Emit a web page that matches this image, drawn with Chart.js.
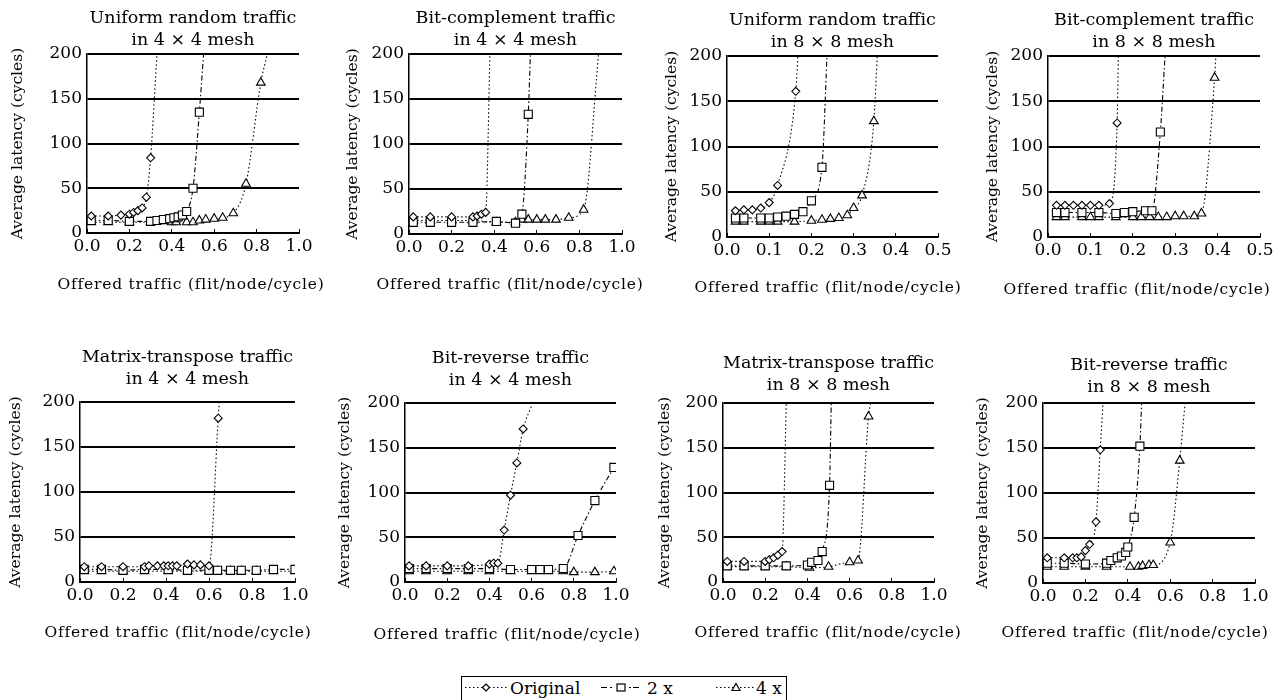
<!DOCTYPE html>
<html>
<head>
<meta charset="utf-8">
<script src="https://cdn.jsdelivr.net/npm/chart.js@4.4.1/dist/chart.umd.min.js"></script>
<style>
  body { margin:0; width:1284px; height:700px; background:#fff; overflow:hidden; position:relative; font-family:'DejaVu Serif', serif; }
  .legend { position:absolute; left:461px; top:676px; width:326px; height:32px; border:1.5px solid #000; box-sizing:border-box; }
  .legend span { position:absolute; top:-0.5px; font-size:17px; line-height:22px; color:#000; white-space:nowrap; }
</style>
</head>
<body>
<div class="legend">
  <svg width="326" height="28" style="position:absolute;left:0;top:0">
    <g stroke="#000" stroke-width="1.2" fill="#fff">
      <line x1="3" y1="10.5" x2="45" y2="10.5" stroke-dasharray="1.5 2.5"/>
      <path d="M24 7 L27.5 10.5 L24 14 L20.5 10.5 Z"/>
      <path d="M139 10.5 H145 M148 10.5 H150 M167 10.5 H169 M171 10.5 H177" fill="none"/>
      <rect x="155" y="7" width="8" height="7"/>
      <line x1="254" y1="10.5" x2="293" y2="10.5" stroke-dasharray="1.5 2.5"/>
      <path d="M274 6.5 L278 13.5 L270 13.5 Z"/>
    </g>
  </svg>
  <span style="left:48px">Original</span>
  <span style="left:185px">2 x</span>
  <span style="left:294px">4 x</span>
</div>
<script>
// tick labels
const yTicks = [0, 50, 100, 150, 200];
const xTicksFull = [0, 0.2, 0.4, 0.6, 0.8, 1.0];
const xTicksHalf = [0, 0.1, 0.2, 0.3, 0.4, 0.5];
const seriesNames = ["Original", "2 x", "4 x"];

// Uniform random, 4x4
const ur4Orig = [[0.02,19],[0.1,19],[0.16,20],[0.2,21],[0.22,23],[0.24,25],[0.26,28],[0.28,40],[0.3,84],[0.33,200]];
const ur4Two = [[0.02,14],[0.1,14],[0.2,13],[0.3,13],[0.33,14],[0.36,15],[0.39,16],[0.41,17],[0.43,18],[0.45,20],[0.47,24],[0.5,50],[0.53,135],[0.55,200]];
const ur4Four = [[0.02,12],[0.1,12],[0.2,12],[0.3,12],[0.4,12],[0.42,12],[0.47,12],[0.5,12],[0.53,14],[0.56,15],[0.6,16],[0.64,17],[0.69,22],[0.75,55],[0.82,168],[0.85,200]];

// Bit-complement, 4x4
const bc4Orig = [[0.02,19],[0.1,19],[0.2,19],[0.3,19],[0.32,20],[0.34,22],[0.36,24],[0.38,200]];
const bc4Two = [[0.02,13],[0.1,13],[0.2,13],[0.3,13],[0.41,14],[0.5,12],[0.53,22],[0.56,133],[0.57,200]];
const bc4Four = [[0.02,15],[0.1,15],[0.2,15],[0.3,15],[0.41,13],[0.5,13],[0.53,16],[0.56,16],[0.6,16],[0.64,16],[0.69,16],[0.75,18],[0.82,27],[0.89,200]];

// Uniform random, 8x8
const ur8Orig = [[0.02,29],[0.04,30],[0.06,30],[0.08,32],[0.1,38],[0.12,57],[0.163,161],[0.168,200]];
const ur8Two = [[0.02,21],[0.04,21],[0.08,21],[0.1,21],[0.12,22],[0.14,23],[0.16,25],[0.18,28],[0.2,40],[0.225,77],[0.237,200]];
const ur8Four = [[0.02,17],[0.04,17],[0.08,17],[0.1,17],[0.12,17],[0.16,17],[0.2,18],[0.225,19],[0.245,20],[0.265,21],[0.285,24],[0.3,32],[0.32,46],[0.348,128],[0.356,200]];

// Bit-complement, 8x8
const bc8Orig = [[0.02,35],[0.04,35],[0.06,35],[0.08,35],[0.1,35],[0.12,35],[0.145,37],[0.163,126],[0.166,200]];
const bc8Two = [[0.02,27],[0.04,27],[0.08,27],[0.12,27],[0.16,26],[0.18,27],[0.2,28],[0.23,29],[0.245,29],[0.265,116],[0.276,200]];
const bc8Four = [[0.02,22],[0.04,22],[0.08,22],[0.1,22],[0.12,22],[0.16,22],[0.2,22],[0.22,22],[0.24,22],[0.26,22],[0.28,22],[0.3,23],[0.32,23],[0.345,23],[0.362,26],[0.393,176],[0.396,200]];

// Matrix-transpose, 4x4
const mt4Orig = [[0.02,17],[0.1,17],[0.2,17],[0.3,17],[0.32,18],[0.36,18],[0.39,18],[0.41,18],[0.43,18],[0.45,18],[0.5,20],[0.53,19],[0.56,19],[0.6,18],[0.643,182],[0.648,200]];
const mt4Two = [[0.02,14],[0.1,14],[0.2,13],[0.3,14],[0.41,14],[0.5,13],[0.6,13],[0.64,13],[0.7,13],[0.75,13],[0.82,13],[0.9,14],[1.0,14]];
const mt4Four = [[0.02,12],[0.1,12],[0.2,12],[0.3,12],[0.41,12],[0.5,12],[0.6,12],[0.64,12],[0.7,12],[0.75,12],[0.82,12],[0.9,12],[1.0,12]];

// Bit-reverse, 4x4
const br4Orig = [[0.02,18],[0.1,18],[0.2,18],[0.3,18],[0.4,20],[0.42,21],[0.44,21],[0.47,58],[0.5,97],[0.53,133],[0.56,171],[0.6,197]];
const br4Two = [[0.02,15],[0.1,15],[0.2,15],[0.3,15],[0.4,15],[0.5,14],[0.6,14],[0.64,14],[0.68,14],[0.75,15],[0.82,52],[0.9,91],[0.99,128]];
const br4Four = [[0.02,12],[0.1,12],[0.2,12],[0.3,12],[0.4,12],[0.5,12],[0.6,12],[0.64,12],[0.68,12],[0.75,12],[0.8,11],[0.9,11],[0.99,12]];

// Matrix-transpose, 8x8
const mt8Orig = [[0.02,23],[0.1,23],[0.2,23],[0.22,25],[0.24,27],[0.26,30],[0.28,34],[0.3,200]];
const mt8Two = [[0.02,18],[0.1,18],[0.2,18],[0.3,18],[0.4,19],[0.42,22],[0.45,24],[0.47,34],[0.505,108],[0.513,200]];
const mt8Four = [[0.02,17],[0.1,17],[0.2,17],[0.3,17],[0.41,16],[0.5,17],[0.6,22],[0.64,24],[0.69,185],[0.7,200]];

// Bit-reverse, 8x8
const br8Orig = [[0.02,28],[0.1,28],[0.14,28],[0.16,28],[0.18,29],[0.2,36],[0.22,43],[0.25,68],[0.27,148],[0.283,200]];
const br8Two = [[0.02,22],[0.1,22],[0.2,21],[0.3,22],[0.32,25],[0.35,28],[0.37,30],[0.39,34],[0.4,40],[0.43,73],[0.457,152],[0.465,200]];
const br8Four = [[0.02,18],[0.1,18],[0.2,18],[0.3,18],[0.41,18],[0.45,18],[0.47,19],[0.5,20],[0.52,20],[0.6,45],[0.645,136],[0.67,200]];

const FONT = "'DejaVu Serif', serif";
const X_CAPTION = "Offered traffic (flit/node/cycle)";

// line / marker look for Original, 2 x, 4 x
const styles = [
  { borderDash: [1.5, 2.5], pointStyle: "rectRot", radius: 4 },
  { borderDash: [5, 2.5, 1.5, 2.5], pointStyle: "rect", radius: 5.7 },
  { borderDash: [1.5, 2.5], pointStyle: "triangle", radius: 5 }
];

// box = canvas [left, top, width, height]; area = plot [left, right, top, bottom]
const panels = [
  { title: ["Uniform random traffic", "in 4 × 4 mesh"], xTicks: xTicksFull, series: [ur4Orig, ur4Two, ur4Four],
    box: [0, 0, 332, 300], area: [87, 299, 54, 233], titleY: 18, yTitleX: 18, xTitle: [191, 285] },
  { title: ["Bit-complement traffic", "in 4 × 4 mesh"], xTicks: xTicksFull, series: [bc4Orig, bc4Two, bc4Four],
    box: [325, 0, 328, 300], area: [409, 622, 54, 234], titleY: 18, yTitleX: 353, xTitle: [510, 285] },
  { title: ["Uniform random traffic", "in 8 × 8 mesh"], xTicks: xTicksHalf, series: [ur8Orig, ur8Two, ur8Four],
    box: [645, 0, 328, 300], area: [727, 938, 56, 237], titleY: 20, yTitleX: 672, xTitle: [828, 288] },
  { title: ["Bit-complement traffic", "in 8 × 8 mesh"], xTicks: xTicksHalf, series: [bc8Orig, bc8Two, bc8Four],
    box: [965, 0, 319, 300], area: [1048, 1260, 56, 237], titleY: 20, yTitleX: 993, xTitle: [1137, 290] },
  { title: ["Matrix-transpose traffic", "in 4 × 4 mesh"], xTicks: xTicksFull, series: [mt4Orig, mt4Two, mt4Four],
    box: [0, 320, 330, 330], area: [80, 295, 402, 582], titleY: 357, yTitleX: 16, xTitle: [178, 633] },
  { title: ["Bit-reverse traffic", "in 4 × 4 mesh"], xTicks: xTicksFull, series: [br4Orig, br4Two, br4Four],
    box: [325, 320, 328, 330], area: [405, 616, 403, 582], titleY: 358, yTitleX: 345, xTitle: [507, 635] },
  { title: ["Matrix-transpose traffic", "in 8 × 8 mesh"], xTicks: xTicksFull, series: [mt8Orig, mt8Two, mt8Four],
    box: [645, 320, 328, 330], area: [723, 934, 403, 582], titleY: 363, yTitleX: 665, xTitle: [828, 633] },
  { title: ["Bit-reverse traffic", "in 8 × 8 mesh"], xTicks: xTicksFull, series: [br8Orig, br8Two, br8Four],
    box: [965, 320, 319, 330], area: [1043, 1255, 403, 583], titleY: 365, yTitleX: 983, xTitle: [1135, 633] }
];

function makePanel(p) {
  const [bx, by, bw, bh] = p.box;
  const [al, ar, at, ab] = p.area;
  const canvas = document.createElement("canvas");
  canvas.width = bw;
  canvas.height = bh;
  canvas.style.cssText = `position:absolute;left:${bx}px;top:${by}px;width:${bw}px;height:${bh}px`;
  document.body.appendChild(canvas);

  const titleTop = p.titleY - by - 11;

  // x caption is wider than the plot in the figure, draw it without Chart's maxWidth squeeze
  const xCaption = {
    id: "xCaption",
    afterDraw(chart) {
      const ctx = chart.ctx;
      ctx.save();
      ctx.font = `15.5px ${FONT}`;
      ctx.letterSpacing = "0.8px";
      ctx.fillStyle = "#000";
      ctx.textAlign = "center";
      ctx.textBaseline = "middle";
      ctx.fillText(X_CAPTION, p.xTitle[0] - bx, p.xTitle[1] - by);
      ctx.restore();
    }
  };

  new Chart(canvas, {
    type: "line",
    data: {
      datasets: p.series.map((pts, i) => ({
        label: seriesNames[i],
        data: pts.map(([x, y]) => ({ x, y })),
        borderColor: "#000",
        borderWidth: 1.1,
        borderDash: styles[i].borderDash,
        cubicInterpolationMode: "monotone",
        pointStyle: styles[i].pointStyle,
        pointRadius: ctx => (ctx.raw && ctx.raw.y >= 190 ? 0 : styles[i].radius),
        pointBorderColor: "#000",
        pointBackgroundColor: "#fff",
        pointBorderWidth: 1.1,
        fill: false
      }))
    },
    options: {
      responsive: false,
      animation: false,
      devicePixelRatio: 1,
      layout: { padding: { left: 0, right: bx + bw - ar, top: 0, bottom: 0 } },
      plugins: {
        legend: { display: false },
        tooltip: { enabled: false },
        title: {
          display: true,
          text: p.title,
          fullSize: false,
          color: "#000",
          font: { family: FONT, size: 17.5, weight: "normal", lineHeight: "22px" },
          padding: { top: titleTop, bottom: at - by - titleTop - 44 }
        }
      },
      scales: {
        x: {
          type: "linear",
          min: p.xTicks[0],
          max: p.xTicks[p.xTicks.length - 1],
          afterBuildTicks: s => { s.ticks = p.xTicks.map(v => ({ value: v })); },
          afterFit: s => { s.height = by + bh - ab; },
          grid: { display: true, drawOnChartArea: false, drawTicks: true, tickLength: -4, color: "#000", lineWidth: 1 },
          border: { color: "#000", width: 1.5 },
          ticks: {
            color: "#000", padding: 7, maxRotation: 0, autoSkip: false,
            font: { family: FONT, size: 17 },
            callback: v => Number(v).toFixed(1)
          },
          title: { display: false }
        },
        y: {
          min: 0,
          max: 200,
          afterBuildTicks: s => { s.ticks = yTicks.map(v => ({ value: v })); },
          afterFit: s => { s.width = al - bx; },
          grid: { color: "#000", lineWidth: 2, drawTicks: false },
          border: { color: "#000", width: 1.5 },
          ticks: { color: "#000", padding: 5, font: { family: FONT, size: 17 } },
          title: {
            display: true,
            text: "Average latency (cycles)",
            color: "#000",
            font: { family: FONT, size: 15.5, lineHeight: "20px" },
            padding: { top: p.yTitleX - bx - 10, bottom: 0 }
          }
        }
      }
    },
    plugins: [xCaption]
  });
}

panels.forEach(makePanel);
</script>
</body>
</html>
